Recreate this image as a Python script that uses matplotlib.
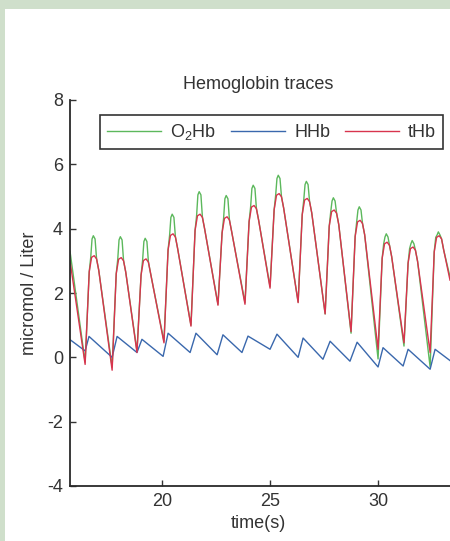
import matplotlib.pyplot as plt
from matplotlib.patches import Rectangle

plt.rcParams['font.family'] = ['Liberation Sans', 'DejaVu Sans']
plt.rcParams['axes.unicode_minus'] = False

# key points (time in s, value in micromol / Liter)
o2hb_t = [15.74,
          16.44, 16.63, 16.70, 16.76, 16.82, 16.90, 16.97, 17.07,
          17.69, 17.88, 17.95, 18.01, 18.07, 18.15, 18.22, 18.32,
          18.84, 19.03, 19.10, 19.16, 19.22, 19.30, 19.37, 19.47,
          20.09, 20.28, 20.35, 20.41, 20.47, 20.55, 20.62, 20.72,
          21.34, 21.53, 21.60, 21.66, 21.72, 21.80, 21.87, 21.97,
          22.59, 22.78, 22.85, 22.91, 22.97, 23.05, 23.12, 23.22,
          23.84, 24.03, 24.10, 24.16, 24.22, 24.30, 24.37, 24.47,
          25.00, 25.19, 25.26, 25.32, 25.38, 25.46, 25.53, 25.63,
          26.30, 26.49, 26.56, 26.62, 26.68, 26.76, 26.83, 26.93,
          27.55, 27.74, 27.81, 27.87, 27.93, 28.01, 28.08, 28.18,
          28.75, 28.94, 29.01, 29.07, 29.13, 29.21, 29.28, 29.38,
          30.00, 30.19, 30.26, 30.32, 30.38, 30.46, 30.53, 30.63,
          31.20, 31.39, 31.46, 31.52, 31.58, 31.66, 31.73, 31.83,
          32.41, 32.60, 32.67, 32.73, 32.79, 32.87, 32.94, 33.04,
          33.33]
o2hb_v = [3.30,
          -0.15, 2.66, 3.11, 3.68, 3.78, 3.68, 3.06, 2.71,
          -0.30, 2.60, 3.05, 3.65, 3.75, 3.65, 3.00, 2.65,
          0.20, 2.56, 3.01, 3.60, 3.70, 3.60, 2.96, 2.61,
          0.50, 3.34, 3.79, 4.35, 4.45, 4.35, 3.74, 3.39,
          1.00, 3.95, 4.40, 5.05, 5.15, 5.05, 4.35, 4.00,
          1.65, 3.87, 4.32, 4.93, 5.03, 4.93, 4.27, 3.92,
          1.70, 4.22, 4.67, 5.25, 5.35, 5.25, 4.62, 4.27,
          2.20, 4.59, 5.04, 5.56, 5.66, 5.56, 4.99, 4.64,
          1.72, 4.44, 4.89, 5.37, 5.47, 5.37, 4.84, 4.49,
          1.35, 4.08, 4.53, 4.86, 4.96, 4.86, 4.48, 4.13,
          0.75, 3.76, 4.21, 4.58, 4.68, 4.58, 4.16, 3.81,
          -0.05, 3.08, 3.53, 3.74, 3.84, 3.74, 3.48, 3.13,
          0.35, 2.93, 3.38, 3.53, 3.63, 3.53, 3.33, 2.98,
          -0.30, 3.28, 3.73, 3.80, 3.90, 3.80, 3.68, 3.33,
          2.50]

hhb_t = [15.74, 16.44, 16.62, 17.69, 17.92, 18.84, 19.07, 20.05, 20.28,
         21.30, 21.57, 22.55, 22.82, 23.70, 23.98, 25.00, 25.32, 26.30,
         26.53, 27.45, 27.78, 28.70, 29.03, 30.00, 30.23, 31.16, 31.39,
         32.41, 32.64, 33.33]
hhb_v = [0.55, 0.20, 0.65, 0.00, 0.65, 0.15, 0.56, 0.03, 0.75,
         0.15, 0.75, 0.08, 0.70, 0.15, 0.66, 0.25, 0.72, 0.00,
         0.60, -0.06, 0.50, -0.12, 0.47, -0.30, 0.30, -0.27, 0.25,
         -0.37, 0.25, -0.10]

thb_t = [15.74,
         16.44, 16.63, 16.74, 16.86, 16.97, 17.07,
         17.69, 17.88, 17.99, 18.11, 18.22, 18.32,
         18.84, 19.03, 19.14, 19.26, 19.37, 19.47,
         20.09, 20.28, 20.39, 20.51, 20.62, 20.72,
         21.34, 21.53, 21.64, 21.76, 21.87, 21.97,
         22.59, 22.78, 22.89, 23.01, 23.12, 23.22,
         23.84, 24.03, 24.14, 24.26, 24.37, 24.47,
         25.00, 25.19, 25.30, 25.42, 25.53, 25.63,
         26.30, 26.49, 26.60, 26.72, 26.83, 26.93,
         27.55, 27.74, 27.85, 27.97, 28.08, 28.18,
         28.75, 28.94, 29.05, 29.17, 29.28, 29.38,
         30.00, 30.19, 30.30, 30.42, 30.53, 30.63,
         31.20, 31.39, 31.50, 31.62, 31.73, 31.83,
         32.41, 32.60, 32.71, 32.83, 32.94, 33.04,
         33.33]
thb_v = [3.00,
         -0.22, 2.66, 3.11, 3.16, 3.06, 2.71,
         -0.40, 2.60, 3.05, 3.10, 3.00, 2.65,
         0.15, 2.56, 3.01, 3.06, 2.96, 2.61,
         0.45, 3.34, 3.79, 3.84, 3.74, 3.39,
         0.97, 3.95, 4.40, 4.45, 4.35, 4.00,
         1.62, 3.87, 4.32, 4.37, 4.27, 3.92,
         1.65, 4.22, 4.67, 4.72, 4.62, 4.27,
         2.15, 4.59, 5.04, 5.09, 4.99, 4.64,
         1.70, 4.44, 4.89, 4.94, 4.84, 4.49,
         1.35, 4.08, 4.53, 4.58, 4.48, 4.13,
         0.80, 3.76, 4.21, 4.26, 4.16, 3.81,
         0.25, 3.08, 3.53, 3.58, 3.48, 3.13,
         0.45, 2.93, 3.38, 3.43, 3.33, 2.98,
         0.15, 3.28, 3.73, 3.78, 3.68, 3.33,
         2.40]

yticks = [-4, -2, 0, 2, 4, 6, 8]
xticks = [20, 25, 30]

fig = plt.figure(figsize=(4.5, 5.41), dpi=100)
fig.patch.set_facecolor('white')
# light green frame of the screenshot
fig.patches.append(Rectangle((0, 0), 5 / 450, 1, transform=fig.transFigure,
                             facecolor='#cfdfcb', edgecolor='none', zorder=-1))
fig.patches.append(Rectangle((0, 1 - 9 / 541), 1, 9 / 541, transform=fig.transFigure,
                             facecolor='#cfdfcb', edgecolor='none', zorder=-1))

ax = fig.add_axes([70 / 450, 55 / 541, 380 / 450, 386 / 541])
ax.plot(o2hb_t, o2hb_v, color='#5cb85c', lw=1.0, label=r'$\mathregular{O_2}$Hb')
ax.plot(hhb_t, hhb_v, color='#3a68ad', lw=1.0, label='HHb')
ax.plot(thb_t, thb_v, color='#d8344e', lw=1.0, label='tHb')

ax.set_xlim(15.74, 33.33)
ax.set_ylim(-4, 8)
ax.set_xticks(xticks)
ax.set_yticks(yticks)
ax.tick_params(direction='in', length=4, width=1, labelsize=13,
               labelcolor='#333333', color='#333333', pad=5)
for s in ['top', 'right']:
    ax.spines[s].set_visible(False)
for s in ['left', 'bottom']:
    ax.spines[s].set_linewidth(1.3)
    ax.spines[s].set_color('#2a2a2a')

ax.set_title('Hemoglobin traces', fontsize=13, color='#333333', pad=8, x=0.495)
ax.set_xlabel('time(s)', fontsize=13, color='#333333')
ax.set_ylabel('micromol / Liter', fontsize=13, color='#333333')
ax.xaxis.set_label_coords(0.495, -0.075)
ax.yaxis.set_label_coords(-0.085, 0.5)

leg = ax.legend(loc='center', ncol=3, mode='expand',
                bbox_to_anchor=(0.079, 0.860, 0.903, 0.114),
                fontsize=13, handlelength=3, handletextpad=0.5,
                fancybox=False, framealpha=1, borderaxespad=0)
leg.get_frame().set_edgecolor('#333333')
leg.get_frame().set_linewidth(1.2)
for t in leg.get_texts():
    t.set_color('#333333')

fig.savefig('out.png', dpi=100)
